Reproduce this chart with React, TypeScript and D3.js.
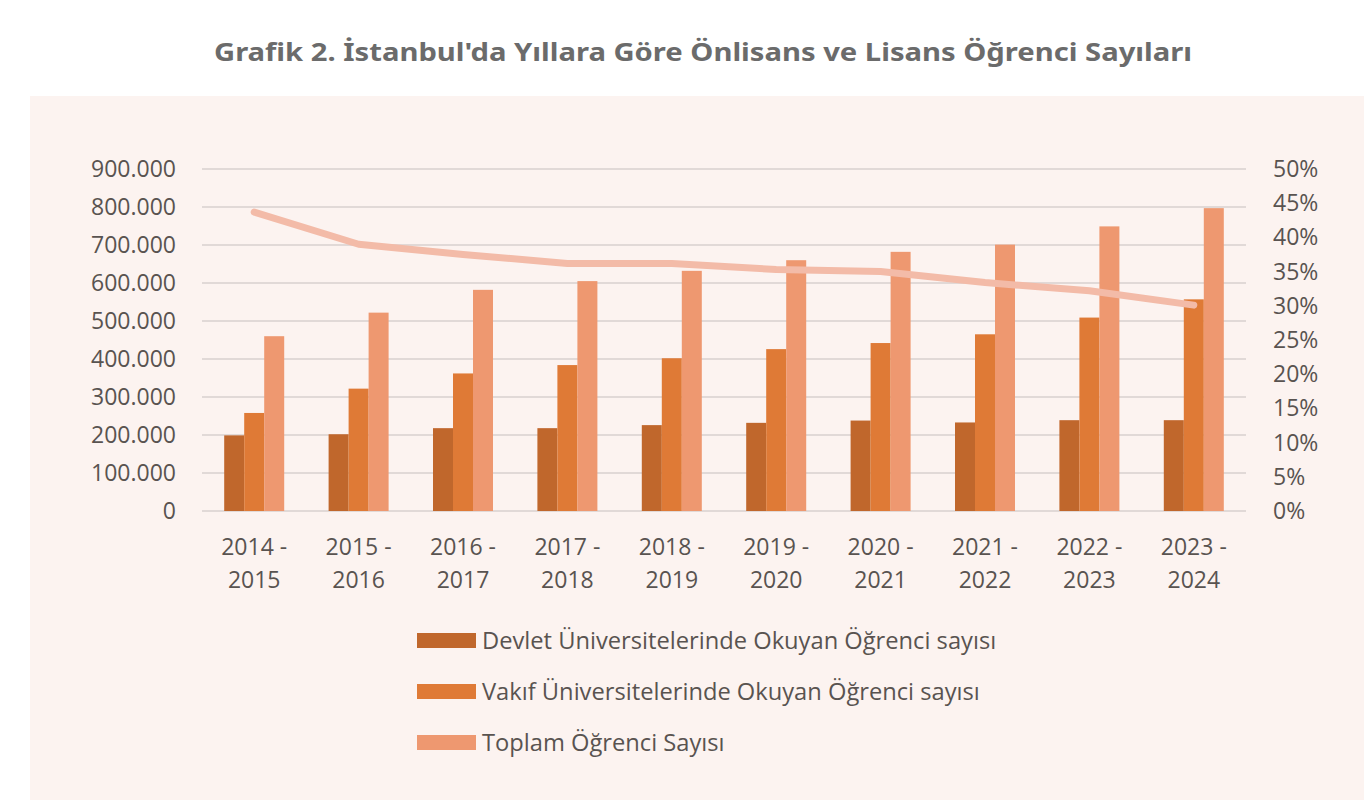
import React from "react";
import * as d3 from "d3";

const categories = [
  ["2014 -", "2015"], ["2015 -", "2016"], ["2016 -", "2017"], ["2017 -", "2018"], ["2018 -", "2019"],
  ["2019 -", "2020"], ["2020 -", "2021"], ["2021 -", "2022"], ["2022 -", "2023"], ["2023 -", "2024"],
];
const devlet = [199000, 202000, 218000, 218000, 226000, 232000, 238000, 233000, 239000, 239000];
const vakif = [258000, 322000, 362000, 384000, 402000, 426000, 442000, 465000, 509000, 557000];
const toplam = [460000, 522000, 582000, 605000, 632000, 660000, 682000, 701000, 749000, 797000];
const oran = [0.437, 0.39, 0.375, 0.362, 0.362, 0.353, 0.35, 0.334, 0.322, 0.301];
const leftTicks = [0, 100000, 200000, 300000, 400000, 500000, 600000, 700000, 800000, 900000];
const rightTicks = [0, 0.05, 0.1, 0.15, 0.2, 0.25, 0.3, 0.35, 0.4, 0.45, 0.5];
const seriesNames = [
  "Devlet Üniversitelerinde Okuyan Öğrenci sayısı",
  "Vakıf Üniversitelerinde Okuyan Öğrenci sayısı",
  "Toplam Öğrenci Sayısı",
];
const colors = ["#c0672c", "#df7a36", "#ee9870"];
const lineColor = "#f3bba8";
const title = "Grafik 2. İstanbul'da Yıllara Göre Önlisans ve Lisans Öğrenci Sayıları";

const W = 1364, H = 800;
const X0 = 202, X1 = 1246, Y0 = 511, YT = 169;
const FONT = "'Open Sans', sans-serif";
const TXT = "#595350";

export default function App() {
  const keys = categories.map((c) => c.join(" "));
  const x = d3.scaleBand<string>().domain(keys).range([X0, X1]).paddingInner(0).paddingOuter(0);
  const bw = x.bandwidth();
  const inner = d3.scaleBand<number>().domain([0, 1, 2]).range([(bw - 60) / 2, (bw + 60) / 2]).padding(0);
  const y = d3.scaleLinear().domain([0, 900000]).range([Y0, YT]);
  const yR = d3.scaleLinear().domain([0, 0.5]).range([Y0, YT]);
  const series = [devlet, vakif, toplam];
  const fmt = (v: number) => d3.format(",")(v).replace(/,/g, ".");
  const line = d3.line<number>()
    .x((_, i) => (x(keys[i]) as number) + bw / 2)
    .y((d) => yR(d));

  return (
    <svg width={W} height={H} style={{ position: "absolute", left: 0, top: 0 }}>
      <rect x={0} y={0} width={W} height={H} fill="#ffffff" />
      <text x={703} y={61} textAnchor="middle" fontFamily="'Noto Sans', sans-serif" fontWeight={700}
        fontSize={25} fill="#6b6b6b" textLength={978} lengthAdjust="spacingAndGlyphs">{title}</text>
      <rect x={30} y={96} width={W - 30} height={H - 96} fill="#fcf3f0" />
      {leftTicks.map((t) => (
        <g key={"g" + t}>
          <line x1={X0} x2={X1} y1={y(t)} y2={y(t)} stroke="#d9d1cf" strokeWidth={1.5} />
          <text x={176} y={y(t) + 8} textAnchor="end" fontFamily={FONT} fontSize={23} fill={TXT}>{fmt(t)}</text>
        </g>
      ))}
      {rightTicks.map((t) => (
        <text key={"r" + t} x={1273} y={yR(t) + 8} fontFamily={FONT} fontSize={23} fill={TXT}>
          {d3.format(".0%")(t)}
        </text>
      ))}
      {keys.map((k, i) => (
        <g key={k} transform={`translate(${x(k)},0)`}>
          {series.map((s, j) => (
            <rect key={j} x={inner(j)} y={y(s[i])} width={inner.bandwidth()} height={Y0 - y(s[i])} fill={colors[j]} />
          ))}
          <text x={bw / 2} y={555} textAnchor="middle" fontFamily={FONT} fontSize={23} fill={TXT}>{categories[i][0]}</text>
          <text x={bw / 2} y={588} textAnchor="middle" fontFamily={FONT} fontSize={23} fill={TXT}>{categories[i][1]}</text>
        </g>
      ))}
      <path d={line(oran) || ""} fill="none" stroke={lineColor} strokeWidth={7} strokeLinecap="round" strokeLinejoin="round" />
      {seriesNames.map((n, i) => (
        <g key={n} transform={`translate(0,${640.5 + i * 51})`}>
          <rect x={417} y={-7.5} width={59} height={15} fill={colors[i]} />
          <text x={482} y={8.5} fontFamily={FONT} fontSize={23.7} fill={TXT}>{n}</text>
        </g>
      ))}
    </svg>
  );
}
